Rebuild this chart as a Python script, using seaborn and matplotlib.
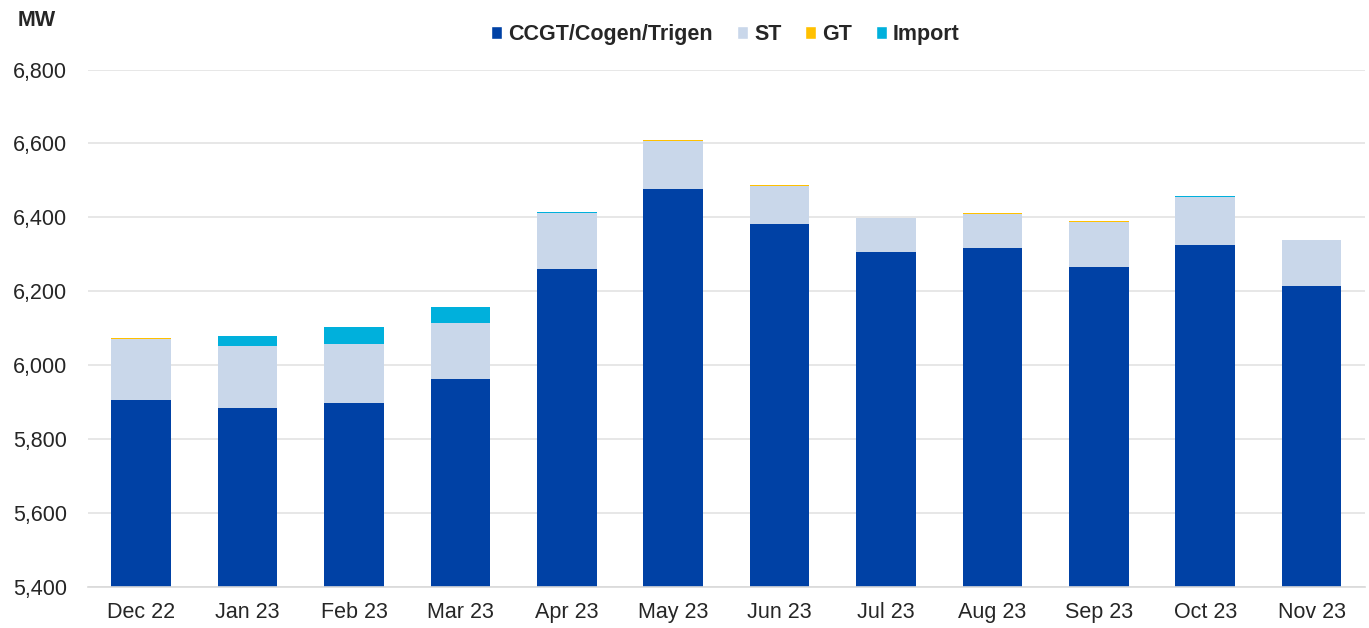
import numpy as np
import pandas as pd

import matplotlib
matplotlib.use("Agg")
import matplotlib.pyplot as plt
from matplotlib.patches import Patch
from matplotlib.ticker import FuncFormatter, MultipleLocator, FixedLocator
import seaborn as sns

sns.set_style("white")
plt.rcParams["font.family"] = ["Liberation Sans", "DejaVu Sans"]

# --- data (MW) ---
months = ["Dec 22", "Jan 23", "Feb 23", "Mar 23", "Apr 23", "May 23",
          "Jun 23", "Jul 23", "Aug 23", "Sep 23", "Oct 23", "Nov 23"]
ccgt = [5905, 5883, 5899, 5964, 6261, 6478, 6382, 6306, 6316, 6267, 6324, 6214]
st = [167, 169, 158, 150, 151, 129, 104, 91, 92, 120, 132, 126]
gt = [2, 0, 0, 0, 0, 2, 2, 2, 3, 2, 0, 0]
imp = [0, 28, 46, 43, 3, 0, 0, 0, 0, 0, 2, 0]

series = ["CCGT/Cogen/Trigen", "ST", "GT", "Import"]
colors = {
    "CCGT/Cogen/Trigen": "#0041A5",
    "ST": "#C9D7EA",
    "GT": "#FFC000",
    "Import": "#00B0DC",
}

df = pd.DataFrame({"month": months, "CCGT/Cogen/Trigen": ccgt, "ST": st,
                   "GT": gt, "Import": imp})
cum = df[series].cumsum(axis=1)
cum["month"] = df["month"]

fig = plt.figure(figsize=(13.69, 6.28), dpi=100)
ax = fig.add_axes([0.0643, 0.0653, 0.9327, 0.824])

# draw cumulative totals, tallest layer first so lower layers sit on top
for name in reversed(series):
    sns.barplot(data=cum, x="month", y=name, color=colors[name], width=0.56,
                saturation=1, ax=ax, edgecolor="none", linewidth=0)

ax.set_ylim(5400, 6800)
ax.set_xlim(-0.5, len(months) - 0.5)
ax.yaxis.set_major_locator(MultipleLocator(200))
ax.yaxis.set_major_formatter(FuncFormatter(lambda v, p: f"{int(v):,}"))
ax.grid(axis="y", color="#E3E3E3", linewidth=1.2)
ax.set_axisbelow(True)
ax.set_xlabel("")
ax.set_ylabel("")

for s in ["top", "right", "left"]:
    ax.spines[s].set_visible(False)
ax.spines["bottom"].set_color("#D9D9D9")
ax.spines["bottom"].set_linewidth(1.2)

# category-boundary tick marks on the x axis
ax.xaxis.set_minor_locator(FixedLocator(np.arange(-0.5, len(months), 1.0)))
ax.tick_params(axis="x", which="minor", length=7, color="#D9D9D9", width=1.2)
ax.tick_params(axis="x", which="major", length=0, labelsize=15.5, pad=11)
ax.tick_params(axis="y", length=0, labelsize=15.5, pad=15)

fig.text(0.013, 0.968, "MW", fontsize=15.5, fontweight="bold", va="center")

handles = [Patch(facecolor=colors[n], label=n) for n in series]
fig.legend(handles=handles, loc="center", bbox_to_anchor=(0.530, 0.945), ncol=4,
           frameon=False, prop={"size": 15.5, "weight": "bold"},
           handlelength=0.5, handleheight=0.5, handletextpad=0.3,
           columnspacing=1.1)

fig.savefig("out.png", dpi=100, facecolor="white")
